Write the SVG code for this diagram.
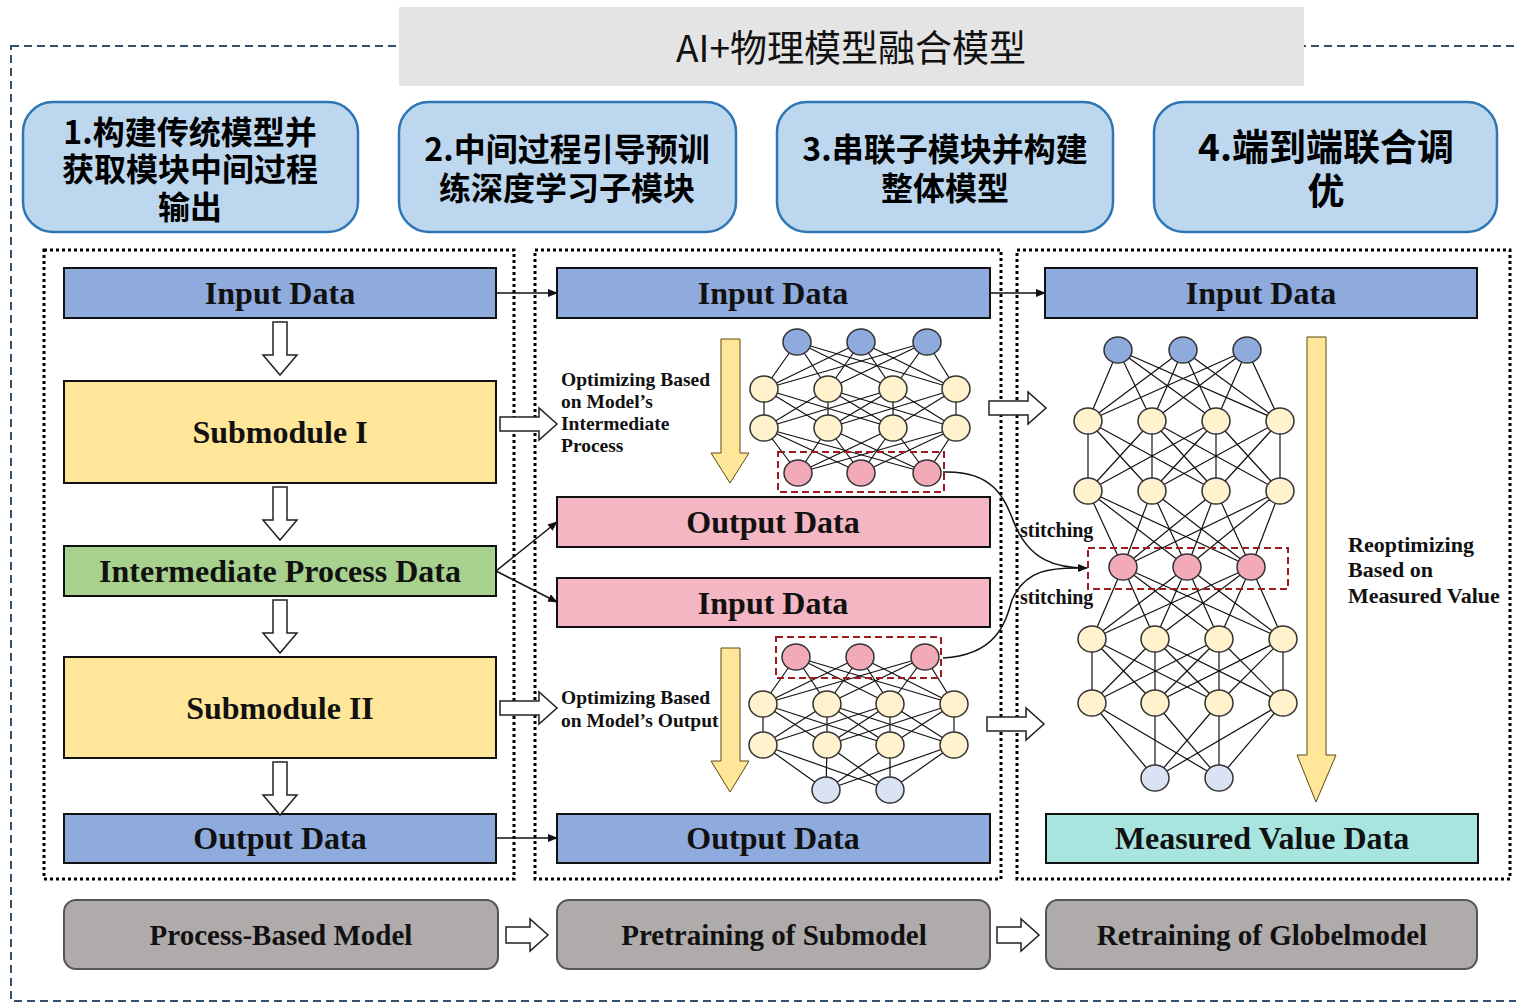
<svg xmlns="http://www.w3.org/2000/svg" width="1516" height="1003" viewBox="0 0 1516 1003">
<style>
.cn{font-family:"Noto Sans CJK SC","Noto Sans",sans-serif;font-weight:bold;fill:#000;text-anchor:middle;dominant-baseline:central}
.en{font-family:"Liberation Serif","Times New Roman",serif;font-weight:bold;fill:#111;text-anchor:middle;dominant-baseline:central;font-size:32px}
.sm{font-family:"Liberation Serif","Times New Roman",serif;font-weight:bold;fill:#111;font-size:19.5px}
.step{fill:#bdd7ee;stroke:#2e75b6;stroke-width:2.5}
.dot{fill:none;stroke:#000;stroke-width:3;stroke-dasharray:3 3}
.box{stroke:#111;stroke-width:2}
.blue{fill:#8faadc}.yel{fill:#ffe699}.grn{fill:#a9d18e}.pink{fill:#f4b6c2}.cyan{fill:#a9e5df}
.gray{fill:#afabab;stroke:#555;stroke-width:2}
.hollow{fill:#fff;stroke:#222;stroke-width:1.5}
.ya{fill:#ffe699;stroke:#5a4a10;stroke-width:1}
.nl{stroke:#111;stroke-width:1.2}
.nb{fill:#8faadc;stroke:#333;stroke-width:1.5}
.ny{fill:#fff2cc;stroke:#333;stroke-width:1.5}
.np{fill:#f2a9b8;stroke:#333;stroke-width:1.5}
.nlb{fill:#dae3f3;stroke:#333;stroke-width:1.5}
.red{fill:none;stroke:#a01c1c;stroke-width:2;stroke-dasharray:7 4}
.thin{fill:none;stroke:#111;stroke-width:1.5}
</style>
<defs>
<marker id="ah" markerWidth="10" markerHeight="8" refX="9" refY="4" orient="auto" markerUnits="userSpaceOnUse"><path d="M0,0 L10,4 L0,8 Z" fill="#111"/></marker>
<path id="rarr" d="M0,-7 H39 V-16 L57,0 L39,16 V7 H0 Z"/>
<path id="rarr2" d="M0,-8 H24 V-16 L42,0 L24,16 V8 H0 Z"/>
<path id="darr" d="M-7,0 V33 H-17 L0,53 L17,33 H7 V0 Z"/>
</defs>

<rect width="1516" height="1003" fill="#fff"/>
<!-- outer dashed frame -->
<rect x="11" y="46" width="1530" height="955" fill="none" stroke="#34506c" stroke-width="2" stroke-dasharray="8 5"/>

<g id="title">
<rect x="399" y="7" width="905" height="79" fill="#e4e4e4"/>
<text x="851" y="46" class="cn" style="font-weight:normal;font-size:37px;fill:#111">AI+物理模型融合模型</text>
</g>

<g id="step1"><rect class="step" x="23" y="102" width="335" height="130" rx="30"/>
<text class="cn" font-size="32" x="190" y="130">1.构建传统模型并</text>
<text class="cn" font-size="32" x="190" y="167">获取模块中间过程</text>
<text class="cn" font-size="32" x="190" y="205">输出</text></g>
<g id="step2"><rect class="step" x="399" y="102" width="337" height="130" rx="30"/>
<text class="cn" font-size="32" x="567" y="147">2.中间过程引导预训</text>
<text class="cn" font-size="32" x="567" y="186">练深度学习子模块</text></g>
<g id="step3"><rect class="step" x="777" y="102" width="336" height="130" rx="30"/>
<text class="cn" font-size="32" x="945" y="147">3.串联子模块并构建</text>
<text class="cn" font-size="32" x="945" y="186">整体模型</text></g>
<g id="step4"><rect class="step" x="1154" y="102" width="343" height="130" rx="30"/>
<text class="cn" font-size="37" x="1326" y="145">4.端到端联合调</text>
<text class="cn" font-size="37" x="1326" y="189">优</text></g>

<!-- dotted panels -->
<g id="panels">
<rect class="dot" x="44" y="250" width="470" height="629"/>
<rect class="dot" x="535" y="250" width="466" height="629"/>
<rect class="dot" x="1017" y="250" width="493" height="629"/>
</g>

<!-- left column -->
<g id="l-input"><rect class="box blue" x="64" y="268" width="432" height="50"/><text class="en" x="280" y="293">Input Data</text></g>
<g id="l-sub1"><rect class="box yel" x="64" y="381" width="432" height="102"/><text class="en" x="280" y="432">Submodule I</text></g>
<g id="l-inter"><rect class="box grn" x="64" y="546" width="432" height="50"/><text class="en" x="280" y="571">Intermediate Process Data</text></g>
<g id="l-sub2"><rect class="box yel" x="64" y="657" width="432" height="101"/><text class="en" x="280" y="708">Submodule II</text></g>
<g id="l-output"><rect class="box blue" x="64" y="814" width="432" height="49"/><text class="en" x="280" y="838">Output Data</text></g>

<!-- middle column -->
<g id="m-input"><rect class="box blue" x="557" y="268" width="433" height="50"/><text class="en" x="773" y="293">Input Data</text></g>
<g id="m-out-pink"><rect class="box pink" x="557" y="497" width="433" height="50"/><text class="en" x="773" y="522">Output Data</text></g>
<g id="m-in-pink"><rect class="box pink" x="557" y="578" width="433" height="49"/><text class="en" x="773" y="603">Input Data</text></g>
<g id="m-output"><rect class="box blue" x="557" y="814" width="433" height="49"/><text class="en" x="773" y="838">Output Data</text></g>

<!-- right column -->
<g id="r-input"><rect class="box blue" x="1045" y="268" width="432" height="50"/><text class="en" x="1261" y="293">Input Data</text></g>
<g id="r-measured"><rect class="box cyan" x="1046" y="814" width="432" height="49"/><text class="en" x="1262" y="838">Measured Value Data</text></g>

<!-- bottom row -->
<g id="b1"><rect class="gray" x="64" y="900" width="434" height="69" rx="12"/><text class="en" style="font-size:29px" x="281" y="935">Process-Based Model</text></g>
<g id="b2"><rect class="gray" x="557" y="900" width="433" height="69" rx="12"/><text class="en" style="font-size:29px" x="774" y="935">Pretraining of Submodel</text></g>
<g id="b3"><rect class="gray" x="1046" y="900" width="431" height="69" rx="12"/><text class="en" style="font-size:29px" x="1262" y="935">Retraining of Globelmodel</text></g>

<!-- neural net: middle top -->
<g id="nn-mid-top">
<g class="nl">
<line x1="797" y1="342" x2="764" y2="389"/><line x1="797" y1="342" x2="828" y2="389"/><line x1="797" y1="342" x2="893" y2="389"/><line x1="797" y1="342" x2="956" y2="389"/>
<line x1="861" y1="342" x2="764" y2="389"/><line x1="861" y1="342" x2="828" y2="389"/><line x1="861" y1="342" x2="893" y2="389"/><line x1="861" y1="342" x2="956" y2="389"/>
<line x1="927" y1="342" x2="764" y2="389"/><line x1="927" y1="342" x2="828" y2="389"/><line x1="927" y1="342" x2="893" y2="389"/><line x1="927" y1="342" x2="956" y2="389"/>
<line x1="764" y1="389" x2="764" y2="428"/><line x1="764" y1="389" x2="828" y2="428"/><line x1="764" y1="389" x2="893" y2="428"/>
<line x1="828" y1="389" x2="764" y2="428"/><line x1="828" y1="389" x2="828" y2="428"/><line x1="828" y1="389" x2="893" y2="428"/><line x1="828" y1="389" x2="956" y2="428"/>
<line x1="893" y1="389" x2="764" y2="428"/><line x1="893" y1="389" x2="828" y2="428"/><line x1="893" y1="389" x2="893" y2="428"/><line x1="893" y1="389" x2="956" y2="428"/>
<line x1="956" y1="389" x2="828" y2="428"/><line x1="956" y1="389" x2="893" y2="428"/><line x1="956" y1="389" x2="956" y2="428"/>
<line x1="764" y1="428" x2="798" y2="473"/><line x1="764" y1="428" x2="861" y2="473"/><line x1="764" y1="428" x2="927" y2="473"/>
<line x1="828" y1="428" x2="798" y2="473"/><line x1="828" y1="428" x2="861" y2="473"/><line x1="828" y1="428" x2="927" y2="473"/>
<line x1="893" y1="428" x2="798" y2="473"/><line x1="893" y1="428" x2="861" y2="473"/><line x1="893" y1="428" x2="927" y2="473"/>
<line x1="956" y1="428" x2="798" y2="473"/><line x1="956" y1="428" x2="861" y2="473"/><line x1="956" y1="428" x2="927" y2="473"/>
</g>
<ellipse class="nb" cx="797" cy="342" rx="14" ry="13"/><ellipse class="nb" cx="861" cy="342" rx="14" ry="13"/><ellipse class="nb" cx="927" cy="342" rx="14" ry="13"/>
<ellipse class="ny" cx="764" cy="389" rx="14" ry="13"/><ellipse class="ny" cx="828" cy="389" rx="14" ry="13"/><ellipse class="ny" cx="893" cy="389" rx="14" ry="13"/><ellipse class="ny" cx="956" cy="389" rx="14" ry="13"/>
<ellipse class="ny" cx="764" cy="428" rx="14" ry="13"/><ellipse class="ny" cx="828" cy="428" rx="14" ry="13"/><ellipse class="ny" cx="893" cy="428" rx="14" ry="13"/><ellipse class="ny" cx="956" cy="428" rx="14" ry="13"/>
<ellipse class="np" cx="798" cy="473" rx="14" ry="13"/><ellipse class="np" cx="861" cy="473" rx="14" ry="13"/><ellipse class="np" cx="927" cy="473" rx="14" ry="13"/>
<rect class="red" x="778" y="452" width="166" height="40"/>
</g>

<!-- neural net: middle bottom -->
<g id="nn-mid-bottom">
<g class="nl">
<line x1="796" y1="657" x2="763" y2="704"/><line x1="796" y1="657" x2="827" y2="704"/><line x1="796" y1="657" x2="890" y2="704"/><line x1="796" y1="657" x2="954" y2="704"/>
<line x1="860" y1="657" x2="763" y2="704"/><line x1="860" y1="657" x2="827" y2="704"/><line x1="860" y1="657" x2="890" y2="704"/><line x1="860" y1="657" x2="954" y2="704"/>
<line x1="925" y1="657" x2="763" y2="704"/><line x1="925" y1="657" x2="827" y2="704"/><line x1="925" y1="657" x2="890" y2="704"/><line x1="925" y1="657" x2="954" y2="704"/>
<line x1="763" y1="704" x2="763" y2="745"/><line x1="763" y1="704" x2="827" y2="745"/><line x1="763" y1="704" x2="890" y2="745"/>
<line x1="827" y1="704" x2="763" y2="745"/><line x1="827" y1="704" x2="827" y2="745"/><line x1="827" y1="704" x2="890" y2="745"/><line x1="827" y1="704" x2="954" y2="745"/>
<line x1="890" y1="704" x2="763" y2="745"/><line x1="890" y1="704" x2="827" y2="745"/><line x1="890" y1="704" x2="890" y2="745"/><line x1="890" y1="704" x2="954" y2="745"/>
<line x1="954" y1="704" x2="827" y2="745"/><line x1="954" y1="704" x2="890" y2="745"/><line x1="954" y1="704" x2="954" y2="745"/>
<line x1="763" y1="745" x2="826" y2="790"/><line x1="763" y1="745" x2="890" y2="790"/>
<line x1="827" y1="745" x2="826" y2="790"/><line x1="827" y1="745" x2="890" y2="790"/>
<line x1="890" y1="745" x2="826" y2="790"/><line x1="890" y1="745" x2="890" y2="790"/>
<line x1="954" y1="745" x2="826" y2="790"/><line x1="954" y1="745" x2="890" y2="790"/>
</g>
<ellipse class="np" cx="796" cy="657" rx="14" ry="13"/><ellipse class="np" cx="860" cy="657" rx="14" ry="13"/><ellipse class="np" cx="925" cy="657" rx="14" ry="13"/>
<ellipse class="ny" cx="763" cy="704" rx="14" ry="13"/><ellipse class="ny" cx="827" cy="704" rx="14" ry="13"/><ellipse class="ny" cx="890" cy="704" rx="14" ry="13"/><ellipse class="ny" cx="954" cy="704" rx="14" ry="13"/>
<ellipse class="ny" cx="763" cy="745" rx="14" ry="13"/><ellipse class="ny" cx="827" cy="745" rx="14" ry="13"/><ellipse class="ny" cx="890" cy="745" rx="14" ry="13"/><ellipse class="ny" cx="954" cy="745" rx="14" ry="13"/>
<ellipse class="nlb" cx="826" cy="790" rx="14" ry="13"/><ellipse class="nlb" cx="890" cy="790" rx="14" ry="13"/>
<rect class="red" x="776" y="637" width="165" height="41"/>
</g>

<!-- neural net: right -->
<g id="nn-right">
<g class="nl">
<line x1="1118" y1="350" x2="1088" y2="421"/><line x1="1118" y1="350" x2="1152" y2="421"/><line x1="1118" y1="350" x2="1216" y2="421"/><line x1="1118" y1="350" x2="1280" y2="421"/>
<line x1="1183" y1="350" x2="1088" y2="421"/><line x1="1183" y1="350" x2="1152" y2="421"/><line x1="1183" y1="350" x2="1216" y2="421"/><line x1="1183" y1="350" x2="1280" y2="421"/>
<line x1="1247" y1="350" x2="1088" y2="421"/><line x1="1247" y1="350" x2="1152" y2="421"/><line x1="1247" y1="350" x2="1216" y2="421"/><line x1="1247" y1="350" x2="1280" y2="421"/>
<line x1="1088" y1="421" x2="1088" y2="491"/><line x1="1088" y1="421" x2="1152" y2="491"/><line x1="1088" y1="421" x2="1216" y2="491"/>
<line x1="1152" y1="421" x2="1088" y2="491"/><line x1="1152" y1="421" x2="1152" y2="491"/><line x1="1152" y1="421" x2="1216" y2="491"/><line x1="1152" y1="421" x2="1280" y2="491"/>
<line x1="1216" y1="421" x2="1088" y2="491"/><line x1="1216" y1="421" x2="1152" y2="491"/><line x1="1216" y1="421" x2="1216" y2="491"/><line x1="1216" y1="421" x2="1280" y2="491"/>
<line x1="1280" y1="421" x2="1152" y2="491"/><line x1="1280" y1="421" x2="1216" y2="491"/><line x1="1280" y1="421" x2="1280" y2="491"/>
<line x1="1088" y1="491" x2="1123" y2="567"/><line x1="1088" y1="491" x2="1187" y2="567"/><line x1="1088" y1="491" x2="1251" y2="567"/>
<line x1="1152" y1="491" x2="1123" y2="567"/><line x1="1152" y1="491" x2="1187" y2="567"/><line x1="1152" y1="491" x2="1251" y2="567"/>
<line x1="1216" y1="491" x2="1123" y2="567"/><line x1="1216" y1="491" x2="1187" y2="567"/><line x1="1216" y1="491" x2="1251" y2="567"/>
<line x1="1280" y1="491" x2="1123" y2="567"/><line x1="1280" y1="491" x2="1187" y2="567"/><line x1="1280" y1="491" x2="1251" y2="567"/>
<line x1="1123" y1="567" x2="1092" y2="639"/><line x1="1123" y1="567" x2="1155" y2="639"/><line x1="1123" y1="567" x2="1219" y2="639"/><line x1="1123" y1="567" x2="1283" y2="639"/>
<line x1="1187" y1="567" x2="1092" y2="639"/><line x1="1187" y1="567" x2="1155" y2="639"/><line x1="1187" y1="567" x2="1219" y2="639"/><line x1="1187" y1="567" x2="1283" y2="639"/>
<line x1="1251" y1="567" x2="1092" y2="639"/><line x1="1251" y1="567" x2="1155" y2="639"/><line x1="1251" y1="567" x2="1219" y2="639"/><line x1="1251" y1="567" x2="1283" y2="639"/>
<line x1="1092" y1="639" x2="1092" y2="703"/><line x1="1092" y1="639" x2="1155" y2="703"/><line x1="1092" y1="639" x2="1219" y2="703"/>
<line x1="1155" y1="639" x2="1092" y2="703"/><line x1="1155" y1="639" x2="1155" y2="703"/><line x1="1155" y1="639" x2="1219" y2="703"/><line x1="1155" y1="639" x2="1283" y2="703"/>
<line x1="1219" y1="639" x2="1092" y2="703"/><line x1="1219" y1="639" x2="1155" y2="703"/><line x1="1219" y1="639" x2="1219" y2="703"/><line x1="1219" y1="639" x2="1283" y2="703"/>
<line x1="1283" y1="639" x2="1155" y2="703"/><line x1="1283" y1="639" x2="1219" y2="703"/><line x1="1283" y1="639" x2="1283" y2="703"/>
<line x1="1092" y1="703" x2="1155" y2="778"/><line x1="1092" y1="703" x2="1219" y2="778"/>
<line x1="1155" y1="703" x2="1155" y2="778"/><line x1="1155" y1="703" x2="1219" y2="778"/>
<line x1="1219" y1="703" x2="1155" y2="778"/><line x1="1219" y1="703" x2="1219" y2="778"/>
<line x1="1283" y1="703" x2="1155" y2="778"/><line x1="1283" y1="703" x2="1219" y2="778"/>
</g>
<ellipse class="nb" cx="1118" cy="350" rx="14" ry="13"/><ellipse class="nb" cx="1183" cy="350" rx="14" ry="13"/><ellipse class="nb" cx="1247" cy="350" rx="14" ry="13"/>
<ellipse class="ny" cx="1088" cy="421" rx="14" ry="13"/><ellipse class="ny" cx="1152" cy="421" rx="14" ry="13"/><ellipse class="ny" cx="1216" cy="421" rx="14" ry="13"/><ellipse class="ny" cx="1280" cy="421" rx="14" ry="13"/>
<ellipse class="ny" cx="1088" cy="491" rx="14" ry="13"/><ellipse class="ny" cx="1152" cy="491" rx="14" ry="13"/><ellipse class="ny" cx="1216" cy="491" rx="14" ry="13"/><ellipse class="ny" cx="1280" cy="491" rx="14" ry="13"/>
<ellipse class="np" cx="1123" cy="567" rx="14" ry="13"/><ellipse class="np" cx="1187" cy="567" rx="14" ry="13"/><ellipse class="np" cx="1251" cy="567" rx="14" ry="13"/>
<ellipse class="ny" cx="1092" cy="639" rx="14" ry="13"/><ellipse class="ny" cx="1155" cy="639" rx="14" ry="13"/><ellipse class="ny" cx="1219" cy="639" rx="14" ry="13"/><ellipse class="ny" cx="1283" cy="639" rx="14" ry="13"/>
<ellipse class="ny" cx="1092" cy="703" rx="14" ry="13"/><ellipse class="ny" cx="1155" cy="703" rx="14" ry="13"/><ellipse class="ny" cx="1219" cy="703" rx="14" ry="13"/><ellipse class="ny" cx="1283" cy="703" rx="14" ry="13"/>
<ellipse class="nlb" cx="1155" cy="778" rx="14" ry="13"/><ellipse class="nlb" cx="1219" cy="778" rx="14" ry="13"/>
<rect class="red" x="1088" y="548" width="200" height="41"/>
</g>

<!-- yellow optimisation arrows and labels -->
<g id="opt1">
<path class="ya" d="M721,339 H740 V453 H749 L730,483 L711,453 H721 Z"/>
<text class="sm" x="561" y="386">Optimizing Based</text>
<text class="sm" x="561" y="408">on Model’s</text>
<text class="sm" x="561" y="430">Intermediate</text>
<text class="sm" x="561" y="452">Process</text>
</g>
<g id="opt2">
<path class="ya" d="M721,648 H740 V761 H749 L730,792 L711,761 H721 Z"/>
<text class="sm" x="561" y="704">Optimizing Based</text>
<text class="sm" x="561" y="727">on Model’s Output</text>
</g>
<g id="opt3">
<path class="ya" d="M1307,337 H1326 V755 H1336 L1316,802 L1297,755 H1307 Z"/>
<text class="sm" style="font-size:22px" x="1348" y="552">Reoptimizing</text>
<text class="sm" style="font-size:22px" x="1348" y="577">Based on</text>
<text class="sm" style="font-size:22px" x="1348" y="603">Measured Value</text>
</g>

<!-- connectors -->
<g id="connectors">
<use href="#darr" class="hollow" x="280" y="322"/>
<use href="#darr" class="hollow" x="280" y="487"/>
<use href="#darr" class="hollow" x="280" y="600"/>
<use href="#darr" class="hollow" x="280" y="762"/>
<use href="#rarr" class="hollow" x="500" y="424"/>
<use href="#rarr" class="hollow" x="500" y="708"/>
<use href="#rarr" class="hollow" x="989" y="408"/>
<use href="#rarr" class="hollow" x="987" y="724"/>
<use href="#rarr2" class="hollow" x="506" y="935"/>
<use href="#rarr2" class="hollow" x="997" y="935"/>
<line class="thin" x1="496" y1="293" x2="557" y2="293" marker-end="url(#ah)"/>
<line class="thin" x1="496" y1="838" x2="557" y2="838" marker-end="url(#ah)"/>
<line class="thin" x1="990" y1="293" x2="1045" y2="293" marker-end="url(#ah)"/>
<line class="thin" x1="496" y1="571" x2="557" y2="522" marker-end="url(#ah)"/>
<line class="thin" x1="496" y1="571" x2="557" y2="602" marker-end="url(#ah)"/>
<path class="thin" d="M943,472 C995,470 1005,500 1015,525 C1030,560 1055,568 1087,568" marker-end="url(#ah)"/>
<path class="thin" d="M943,658 C995,655 1005,625 1012,600 C1025,570 1050,567 1085,568"/>
<text class="sm" style="font-size:20px" x="1020" y="537">stitching</text>
<text class="sm" style="font-size:20px" x="1020" y="604">stitching</text>
</g>
</svg>
